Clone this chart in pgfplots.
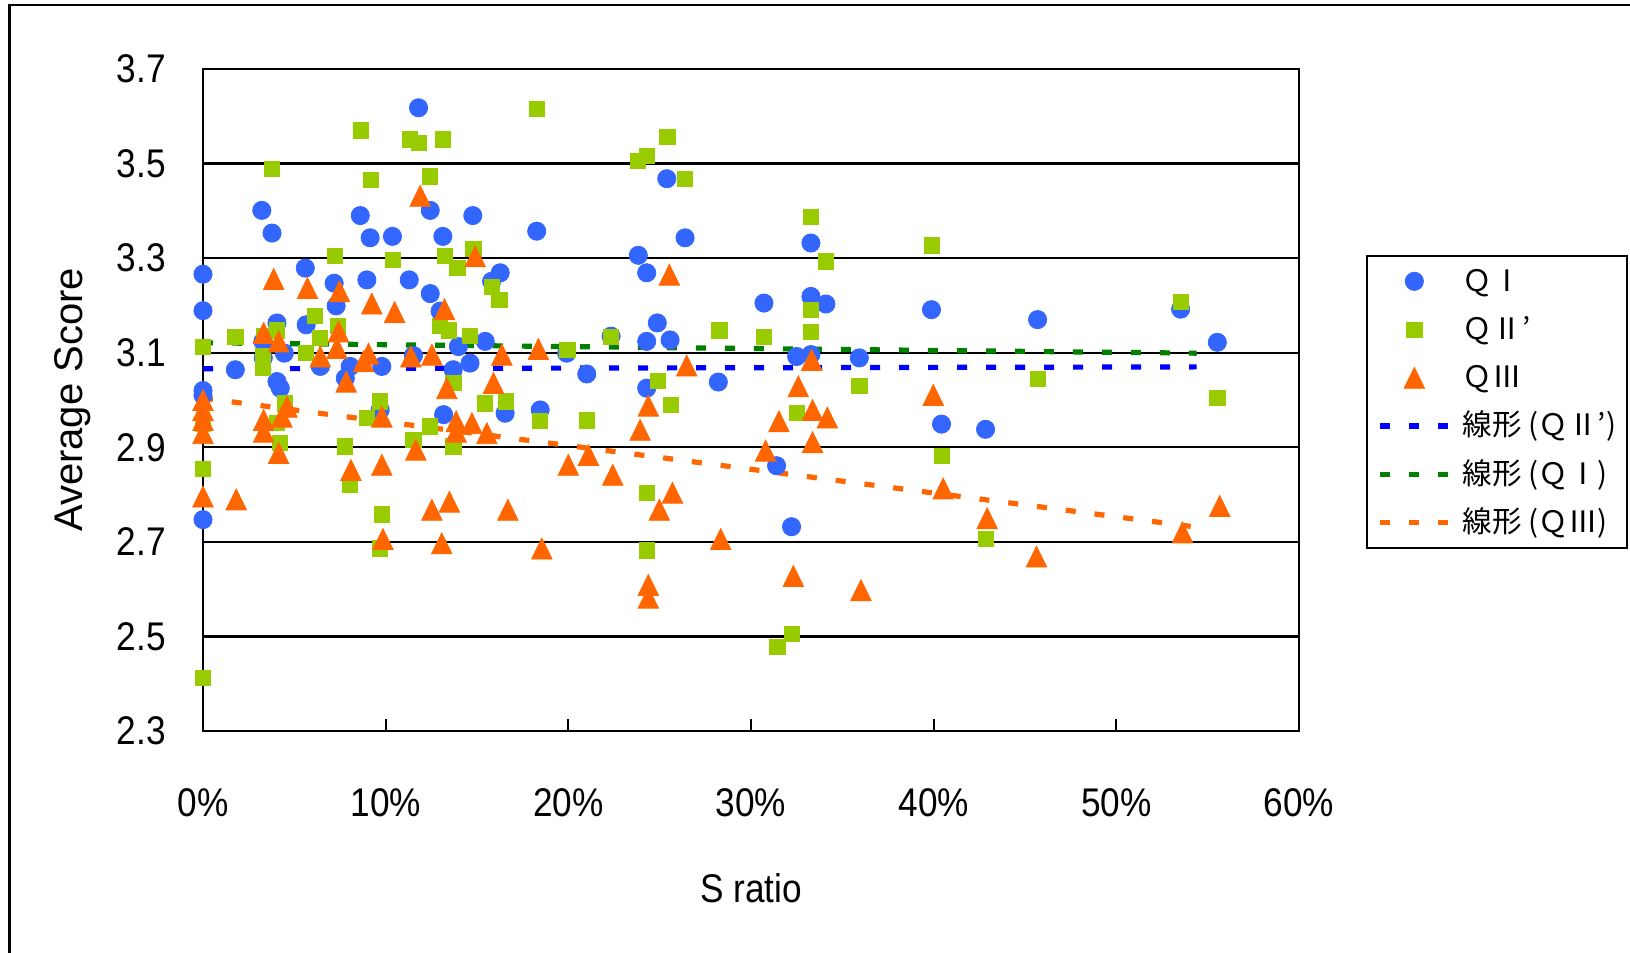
\documentclass[border=0pt]{standalone}
\usepackage{pgfplots}
\pgfplotsset{compat=1.18}
\usepackage{fontspec}
\setmainfont[FakeStretch=0.88]{Liberation Sans}
\newfontfamily\ylabfont{Liberation Sans}
\newfontfamily\cjk{Noto Sans CJK JP}
\definecolor{cI}{HTML}{3366FF}
\definecolor{cII}{HTML}{99CC00}
\definecolor{cIII}{HTML}{FF6600}
\definecolor{tBlue}{HTML}{0000FF}
\definecolor{tGreen}{HTML}{008000}
\pgfplotsset{
  trendline/.style={no marks, line width=2.6pt, dash pattern=on 5pt off 9.5pt,
    legend image code/.code={\draw[##1] (0pt,0pt) -- (34pt,0pt);}},
  scatterpts/.style={only marks, line width=0.4pt,
    legend image code/.code={\path[draw=none,fill=none] (0pt,0pt) (34pt,0pt);
      \draw[mark repeat=2,mark phase=2,##1,/tikz/only marks] plot coordinates {(0pt,0pt) (17pt,0pt) (34pt,0pt)};}},
}
\begin{document}
\begin{tikzpicture}
\useasboundingbox (0,0) rectangle (815pt,476.5pt);
\draw[line width=1.2pt] (4.75pt,-20pt) -- (4.75pt,474pt) -- (840pt,474pt);
\begin{axis}[
  at={(101.5pt,111pt)}, anchor=south west,
  scale only axis, width=548pt, height=331pt,
  xmin=0, xmax=0.6, ymin=2.3, ymax=3.7,
  clip=false,
  xtick={0,0.1,0.2,0.3,0.4,0.5,0.6},
  xticklabels={0\%,10\%,20\%,30\%,40\%,50\%,60\%},
  ytick={2.3,2.5,2.7,2.9,3.1,3.3,3.5,3.7},
  yticklabels={2.3,2.5,2.7,2.9,3.1,3.3,3.5,3.7},
  tick align=inside, xtick pos=bottom, ytick pos=left,
  major tick length=6pt,
  tick style={black, line width=1pt},
  ymajorgrids, grid style={black, line width=1.1pt},
  axis line style={black, line width=1.2pt},
  tick label style={font=\fontsize{20}{24}\selectfont},
  xticklabel style={anchor=base, inner sep=0pt, yshift=-43pt},
  yticklabel style={anchor=east, inner sep=0pt, xshift=-18.5pt},
  xlabel={S ratio}, ylabel={Average Score},
  xlabel style={font=\fontsize{20}{24}\selectfont, at={(axis description cs:0.5,0)}, anchor=base, yshift=-86pt},
  ylabel style={font=\ylabfont\fontsize{20}{24}\selectfont, at={(axis description cs:-0.1192,0.5)}, anchor=center},
  legend cell align=left,
  legend style={at={(axis description cs:1.0611,0.7190)}, anchor=north west,
    draw=black, line width=0.8pt, fill=white,
    inner xsep=5.5pt, inner ysep=4.75pt, row sep=8.1pt, column sep=6pt,
    font=\cjk\fontsize{14.8}{18}\selectfont,
    nodes={inner sep=0pt, text height=13pt, text depth=3pt}},
]
% Q I
\addplot[scatterpts, color=cI, mark=*, mark size=4.55pt, mark options={fill=cI, draw=cI}] table {
x y
0.000 3.266
0.000 3.189
0.000 3.020
0.000 3.010
0.000 2.747
0.0177 3.064
0.0322 3.401
0.0328 3.124
0.0330 3.089
0.0378 3.353
0.0405 3.163
0.0405 3.039
0.0423 3.025
0.0445 3.099
0.0560 3.279
0.0565 3.159
0.0642 3.071
0.0718 3.247
0.0729 3.199
0.0779 3.046
0.0806 3.071
0.0861 3.390
0.0897 3.254
0.0915 3.343
0.0970 2.979
0.0979 3.071
0.1037 3.346
0.1129 3.254
0.1152 3.094
0.1180 3.618
0.1244 3.401
0.1244 3.225
0.1298 3.188
0.1313 3.346
0.1317 2.969
0.1370 3.064
0.1398 3.113
0.1462 3.078
0.1477 3.390
0.1545 3.124
0.1580 3.251
0.1627 3.269
0.1654 2.972
0.1827 3.357
0.1846 2.979
0.1991 3.099
0.2101 3.055
0.2234 3.135
0.2383 3.306
0.2429 3.269
0.2429 3.124
0.2429 3.025
0.2487 3.163
0.2539 3.468
0.2557 3.127
0.2639 3.343
0.2821 3.038
0.3071 3.205
0.3140 2.861
0.3222 2.732
0.3250 3.092
0.3328 3.332
0.3328 3.219
0.3328 3.096
0.3410 3.203
0.3593 3.089
0.3988 3.191
0.4043 2.949
0.4284 2.938
0.4569 3.170
0.5352 3.192
0.5553 3.122
};
\addlegendentry{ＱⅠ}
% Q II'
\addplot[scatterpts, color=cII, mark=square*, mark size=3.8pt, mark options={fill=cII, draw=cII}] table {
x y
0.000 3.113
0.000 2.950
0.000 2.854
0.000 2.412
0.0177 3.133
0.0332 3.136
0.0330 3.092
0.0330 3.068
0.0378 3.489
0.0405 3.147
0.0405 2.951
0.0423 2.909
0.0450 2.993
0.0565 3.099
0.0614 3.177
0.0642 3.131
0.0724 3.305
0.0738 3.156
0.0775 2.902
0.0802 2.820
0.0864 3.570
0.0897 2.962
0.0919 3.466
0.0970 2.997
0.0970 2.686
0.0979 2.758
0.1040 3.297
0.1131 3.551
0.1152 2.916
0.1182 3.544
0.1244 3.473
0.1244 2.944
0.1298 3.156
0.1313 3.551
0.1326 3.305
0.1344 3.147
0.1371 3.036
0.1371 2.902
0.1393 3.279
0.1462 3.136
0.1480 3.319
0.1545 2.993
0.1581 3.240
0.1623 3.212
0.1660 2.997
0.1827 3.615
0.1846 2.955
0.1995 3.106
0.2101 2.957
0.2234 3.133
0.2383 3.505
0.2429 3.516
0.2429 2.803
0.2429 2.682
0.2489 3.041
0.2542 3.556
0.2560 2.990
0.2639 3.468
0.2827 3.147
0.3071 3.133
0.3144 2.478
0.3222 2.505
0.3250 2.972
0.3328 3.387
0.3328 3.191
0.3328 3.144
0.3408 3.293
0.3593 3.029
0.3992 3.327
0.4043 2.882
0.4284 2.707
0.4569 3.044
0.5352 3.207
0.5553 3.004
};
\addlegendentry{ＱⅡ’}
% Q III
\addplot[scatterpts, color=cIII, mark=triangle*, mark size=5.9pt, mark options={fill=cIII, draw=cIII, yshift=-1.8pt, yscale=1.18}] table {
x y
0.000 3.000
0.000 2.979
0.000 2.958
0.000 2.930
0.000 2.796
0.0182 2.790
0.0332 3.142
0.0332 2.958
0.0332 2.933
0.0387 3.256
0.0414 3.124
0.0414 2.888
0.0432 2.965
0.0460 2.986
0.0572 3.237
0.0642 3.092
0.0733 3.110
0.0742 3.145
0.0747 3.230
0.0784 3.039
0.0810 2.852
0.0879 3.082
0.0906 3.098
0.0924 3.204
0.0979 2.965
0.0979 2.863
0.0985 2.706
0.1049 3.186
0.1138 3.092
0.1165 2.895
0.1189 3.432
0.1253 3.096
0.1253 2.768
0.1307 2.697
0.1322 3.192
0.1335 3.025
0.1349 2.785
0.1386 2.955
0.1386 2.933
0.1472 2.951
0.1490 3.304
0.1554 2.930
0.1590 3.036
0.1636 3.096
0.1669 2.768
0.1836 3.108
0.1855 2.686
0.2000 2.863
0.2110 2.884
0.2243 2.842
0.2393 2.937
0.2438 2.988
0.2438 2.609
0.2438 2.582
0.2498 2.768
0.2553 3.265
0.2570 2.804
0.2648 3.073
0.2834 2.706
0.3080 2.893
0.3153 2.955
0.3232 2.628
0.3259 3.029
0.3332 3.085
0.3337 2.979
0.3337 2.911
0.3418 2.963
0.3602 2.598
0.3998 3.011
0.4052 2.813
0.4293 2.750
0.4563 2.669
0.5362 2.720
0.5566 2.776
};
\addlegendentry{ＱⅢ}
% trend lines
\addplot[trendline, tBlue] coordinates {(0,3.066) (0.544,3.070)};
\addlegendentry{線形 (ＱⅡ’)}
\addplot[trendline, tGreen] coordinates {(0,3.121) (0.544,3.099)};
\addlegendentry{線形 (ＱⅠ)}
\addplot[trendline, cIII] coordinates {(0,3.004) (0.544,2.731)};
\addlegendentry{線形 (ＱⅢ)}
\end{axis}
\end{tikzpicture}
\end{document}
